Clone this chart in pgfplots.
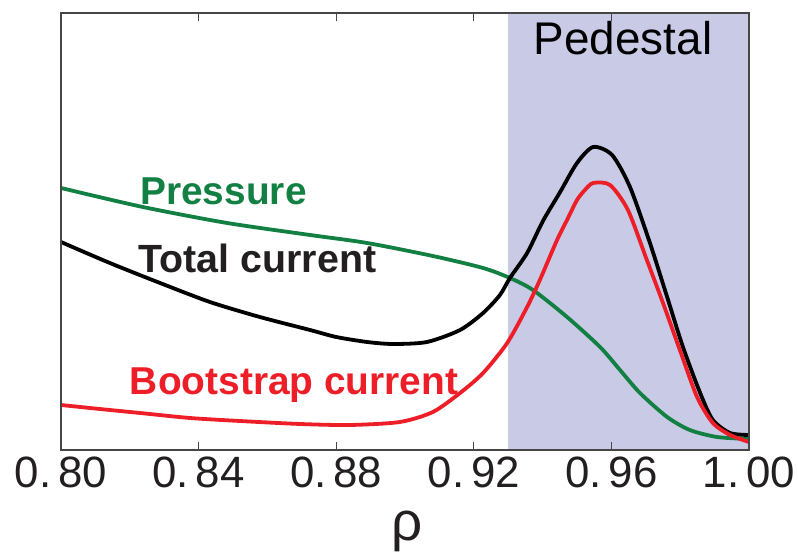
\documentclass[border=0pt]{standalone}
\usepackage{pgfplots}
\pgfplotsset{compat=1.18}
\usepackage{fontspec}
\setmainfont{Liberation Sans}

\definecolor{pgreen}{RGB}{18,128,66}
\definecolor{bsred}{RGB}{237,30,40}
\definecolor{pedfill}{RGB}{201,203,230}
\definecolor{axgray}{RGB}{70,70,70}
\definecolor{txtdark}{RGB}{35,31,32}

% spaced tick label, e.g. "0. 80"
\newcommand{\tl}[2]{#1\kern7bp#2}

\begin{document}
\begin{tikzpicture}
\begin{axis}[
name=ax,
scale only axis,
width=688bp,
height=437bp,
xmin=0.8, xmax=1.0,
ymin=0, ymax=437,
axis on top,
clip=false,
ytick=\empty,
xtick={0.80,0.84,0.88,0.92,0.96,1.00},
xticklabels={\tl{0.}{80},\tl{0.}{84},\tl{0.}{88},\tl{0.}{92},\tl{0.}{96},\tl{1.}{00}},
tick align=inside,
major tick length=8bp,
tick style={draw=axgray, line width=1bp},
axis line style={draw=axgray, line width=1.3bp},
xticklabel style={font=\fontsize{44}{44}\selectfont, text=txtdark, inner sep=0pt, yshift=-7bp},
every axis plot/.append style={line width=3.8bp, line join=round, smooth, tension=0.45},
]
% pedestal region
\fill[pedfill] (axis cs:0.93,0) rectangle (axis cs:1.0,437);

% pressure
\addplot[draw=pgreen] coordinates {
(0.800,262) (0.8238,243) (0.8483,227) (0.8724,215) (0.8890,207) (0.9081,194)
(0.9227,182) (0.9305,172) (0.9372,160) (0.9471,133) (0.9567,103) (0.9625,80)
(0.9683,57) (0.9762,33) (0.9828,20) (0.9907,13) (1.000,11)
};
% total current
\addplot[draw=black] coordinates {
(0.800,208) (0.8142,187) (0.8288,167) (0.8433,148) (0.8578,133) (0.8724,120)
(0.8800,113) (0.8890,108) (0.8965,106) (0.9064,108) (0.9160,120) (0.9227,137)
(0.9276,155) (0.9305,172) (0.9355,197) (0.9401,229) (0.9451,258) (0.9500,287)
(0.9547,303) (0.9602,295) (0.9654,263) (0.9712,207) (0.9762,153) (0.9808,103)
(0.9858,57) (0.9895,30) (0.9945,17) (1.000,15)
};
% bootstrap current
\addplot[draw=bsred] coordinates {
(0.800,45) (0.8113,41) (0.8230,37) (0.8375,32) (0.8520,29) (0.8695,26)
(0.8840,25) (0.8985,28) (0.9081,38) (0.9160,57) (0.9227,77) (0.9297,107)
(0.9355,143) (0.9392,170) (0.9442,210) (0.9471,230) (0.9500,250) (0.9523,260)
(0.9547,267) (0.9596,265) (0.9648,240) (0.9703,190) (0.9750,147) (0.9799,100)
(0.9849,53) (0.9895,27) (0.9945,15) (1.000,8)
};

\node[anchor=base west, inner sep=0pt, text=pgreen, font=\bfseries\fontsize{39}{40}\selectfont] at (axis cs:0.8230,245) {Pressure};
\node[anchor=base west, inner sep=0pt, text=txtdark, font=\bfseries\fontsize{39.5}{40}\selectfont] at (axis cs:0.8225,177) {Total current};
\node[anchor=base west, inner sep=0pt, text=bsred, font=\bfseries\fontsize{39}{40}\selectfont] at (axis cs:0.8200,55) {Bootstrap current};
\node[anchor=base, inner sep=0pt, text=black, font=\fontsize{46}{46}\selectfont] at (axis cs:0.9634,395) {Pedestal};
\end{axis}
\node[anchor=base, inner sep=0pt, text=txtdark, font=\fontsize{55}{55}\selectfont] at ([xshift=346bp,yshift=-90bp]ax.south west) {ρ};
\pgfresetboundingbox
\path[use as bounding box] ([xshift=-61bp,yshift=-104bp]ax.south west) rectangle ([xshift=49bp,yshift=13bp]ax.north east);
\end{tikzpicture}
\end{document}
